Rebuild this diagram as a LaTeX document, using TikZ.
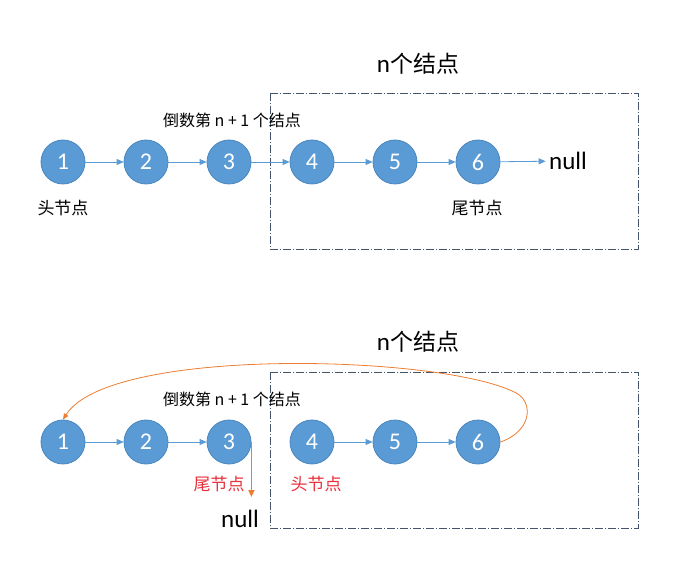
\documentclass[tikz,border=0pt]{standalone}
\usepackage{fontspec}
\setmainfont{Carlito}
\newfontfamily\cjk{Noto Sans CJK SC}
\usetikzlibrary{arrows.meta}
\definecolor{nodeblue}{HTML}{5B9BD5}
\definecolor{nodeedge}{HTML}{4A86BE}
\definecolor{boxgray}{HTML}{44546A}
\definecolor{linkorange}{HTML}{ED7D31}
\definecolor{labelred}{HTML}{E8303A}

\begin{document}
\begin{tikzpicture}[x=1pt,y=-1pt,
    listnode/.style={circle,fill=nodeblue,draw=nodeedge,line width=0.8pt,minimum size=44pt,inner sep=0pt,text=white,font=\fontsize{24}{24}\selectfont},
    link/.style={draw=nodeblue,line width=0.8pt,-{Triangle[length=7pt,width=6pt]}},
    nbox/.style={draw=boxgray,line width=0.6pt,dash pattern=on 8pt off 2pt on 1pt off 2pt},
    cn/.style={font=\cjk\fontsize{16}{16}\selectfont},
    tag/.style={font=\cjk\fontsize{17}{17}\selectfont},
    big/.style={font=\fontsize{25}{25}\selectfont}]
    \useasboundingbox (0,0) rectangle (691,569);
    % dashed boxes round the last n nodes
    \draw [nbox] (270,93) rectangle (638,249);
    \draw [nbox] (270,372) rectangle (638,528);
    \node [big] (atitle) at (418,64) {n{\cjk\fontsize{23}{23}\selectfont 个结点}};
    \node [big] (btitle) at (418,342) {n{\cjk\fontsize{23}{23}\selectfont 个结点}};
    \node [cn] (anth) at (232,120) {倒数第 n + 1 个结点};
    \node [cn] (bnth) at (232,399) {倒数第 n + 1 个结点};
    % the two lists
    \foreach \i/\x in {1/63,2/146,3/229,4/312,5/395,6/478} {
        \node [listnode] (a\i) at (\x,162) {\i};
        \node [listnode] (b\i) at (\x,442) {\i};
    }
    \foreach \i/\j in {1/2,2/3,3/4,4/5,5/6}
        \draw [link] (a\i) -- (a\j);
    \foreach \i/\j in {1/2,2/3,4/5,5/6}
        \draw [link] (b\i) -- (b\j);
    \node [big] (anull) at (568,161) {null};
    \draw [link] (a6) -- (anull);
    \node [tag] (ahead) at (63,208) {头节点};
    \node [tag] (atail) at (477,208) {尾节点};
    % after the cut
    \coordinate (cut) at (252,497);
    \draw [linkorange,line width=1.6pt,-{Triangle[length=7pt,width=6pt]}] (b3.east) -- (b3.east |- cut);
    \node [big] (bnull) at (240,519) {null};
    \node [tag,text=labelred] (btail) at (219,484) {尾节点};
    \node [tag,text=labelred] (bhead) at (316,484) {头节点};
    \draw [linkorange,line width=0.8pt,-{Triangle[length=6pt,width=5pt]}] (b6.east) .. controls (530,432) and (534,405) .. (518,394)
        .. controls (450,355) and (110,345) .. (b1.north);
\end{tikzpicture}
\end{document}
